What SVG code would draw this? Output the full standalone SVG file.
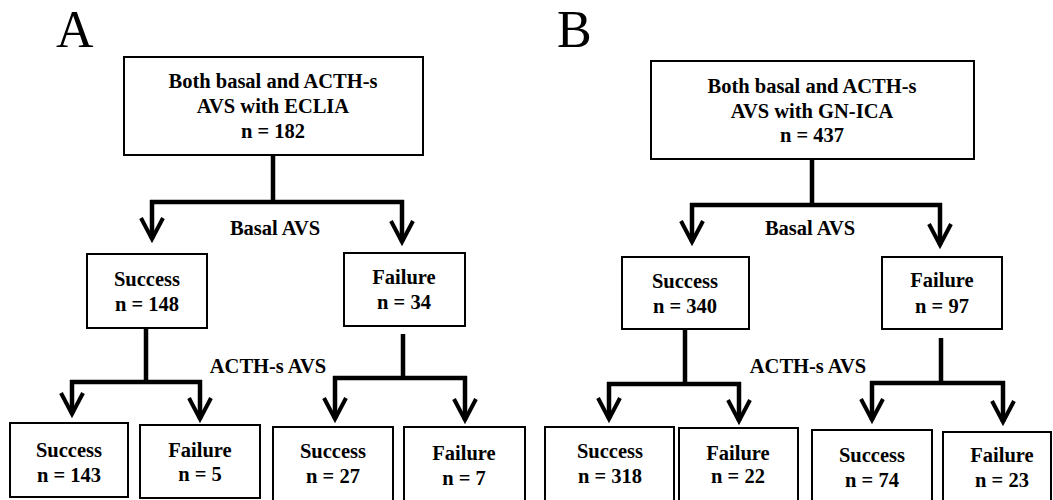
<svg xmlns="http://www.w3.org/2000/svg" width="1053" height="500" viewBox="0 0 1053 500">
<style>
.bx{fill:#fff;stroke:#000;stroke-width:2}
.t{font-family:"Liberation Serif","Times New Roman",serif;font-weight:bold;font-size:20.5px;text-anchor:middle;fill:#000}
.pl{font-family:"Liberation Serif","Times New Roman",serif;font-size:52px;fill:#000}
.ln{fill:none;stroke:#000;stroke-width:4.5}
.ar{fill:none;stroke:#000;stroke-width:4.5;marker-end:url(#chev)}
</style>
<defs>
<marker id="chev" markerUnits="userSpaceOnUse" viewBox="-25 -15 30 30" markerWidth="30" markerHeight="30" refX="0" refY="0" orient="auto" overflow="visible">
<path d="M-21,-11 L0,0 L-21,11" fill="none" stroke="#000" stroke-width="4"/>
</marker>
</defs>
<rect width="1053" height="500" fill="#fff"/>
<text class="pl" x="56" y="47">A</text>
<text class="pl" x="557" y="47">B</text>

<g id="connectors">
<path class="ln" d="M273,155 V202 M150,202 H404"/>
<path class="ar" d="M152,200 V239"/>
<path class="ar" d="M402,200 V242"/>
<path class="ln" d="M146,328 V382 M70,382 H202"/>
<path class="ar" d="M72,380 V414"/>
<path class="ar" d="M200,380 V419"/>
<path class="ln" d="M403,334 V378 M333,378 H467"/>
<path class="ar" d="M335,376 V419"/>
<path class="ar" d="M465,376 V420"/>
<path class="ln" d="M812,159 V205 M690,205 H942"/>
<path class="ar" d="M692,203 V242"/>
<path class="ar" d="M940,203 V245"/>
<path class="ln" d="M685,329 V384 M607,384 H741"/>
<path class="ar" d="M609,382 V419"/>
<path class="ar" d="M739,382 V421"/>
<path class="ln" d="M941,338 V383 M870,383 H1005"/>
<path class="ar" d="M872,381 V420"/>
<path class="ar" d="M1003,381 V422"/>
</g>

<text class="t" x="275" y="235">Basal AVS</text>
<text class="t" x="810" y="235">Basal AVS</text>
<text class="t" x="268" y="373">ACTH-s AVS</text>
<text class="t" x="808" y="373">ACTH-s AVS</text>

<g id="a_top">
<rect class="bx" x="124" y="57" width="299" height="98"/>
<text class="t" x="273" y="88">Both basal and ACTH-s</text>
<text class="t" x="273" y="113">AVS with ECLIA</text>
<text class="t" x="273" y="138">n = 182</text>
</g>
<g id="a_success">
<rect class="bx" x="87" y="254" width="120" height="74"/>
<text class="t" x="147" y="286">Success</text>
<text class="t" x="147" y="311">n = 148</text>
</g>
<g id="a_failure">
<rect class="bx" x="344" y="253" width="121" height="73"/>
<text class="t" x="404" y="284">Failure</text>
<text class="t" x="404" y="309">n = 34</text>
</g>
<g id="a_ss">
<rect class="bx" x="10" y="423" width="118" height="74"/>
<text class="t" x="69" y="457">Success</text>
<text class="t" x="69" y="482">n = 143</text>
</g>
<g id="a_sf">
<rect class="bx" x="140" y="425" width="120" height="73"/>
<text class="t" x="200" y="457">Failure</text>
<text class="t" x="200" y="481">n = 5</text>
</g>
<g id="a_fs">
<rect class="bx" x="273" y="427" width="120" height="76"/>
<text class="t" x="333" y="458">Success</text>
<text class="t" x="333" y="483">n = 27</text>
</g>
<g id="a_ff">
<rect class="bx" x="404" y="427" width="121" height="76"/>
<text class="t" x="464" y="460">Failure</text>
<text class="t" x="464" y="485">n = 7</text>
</g>

<g id="b_top">
<rect class="bx" x="651" y="61" width="323" height="98"/>
<text class="t" x="812" y="93">Both basal and ACTH-s</text>
<text class="t" x="812" y="118">AVS with GN-ICA</text>
<text class="t" x="812" y="142">n = 437</text>
</g>
<g id="b_success">
<rect class="bx" x="622" y="257" width="127" height="72"/>
<text class="t" x="685" y="288">Success</text>
<text class="t" x="685" y="313">n = 340</text>
</g>
<g id="b_failure">
<rect class="bx" x="882" y="257" width="120" height="72"/>
<text class="t" x="942" y="287">Failure</text>
<text class="t" x="942" y="313">n = 97</text>
</g>
<g id="b_ss">
<rect class="bx" x="545" y="427" width="129" height="76"/>
<text class="t" x="610" y="458">Success</text>
<text class="t" x="610" y="483">n = 318</text>
</g>
<g id="b_sf">
<rect class="bx" x="679" y="428" width="119" height="76"/>
<text class="t" x="738" y="460">Failure</text>
<text class="t" x="738" y="483">n = 22</text>
</g>
<g id="b_fs">
<rect class="bx" x="812" y="430" width="120" height="76"/>
<text class="t" x="872" y="462">Success</text>
<text class="t" x="872" y="487">n = 74</text>
</g>
<g id="b_ff">
<rect class="bx" x="943" y="432" width="108" height="76"/>
<text class="t" x="1002" y="462">Failure</text>
<text class="t" x="1002" y="487">n = 23</text>
</g>
</svg>
